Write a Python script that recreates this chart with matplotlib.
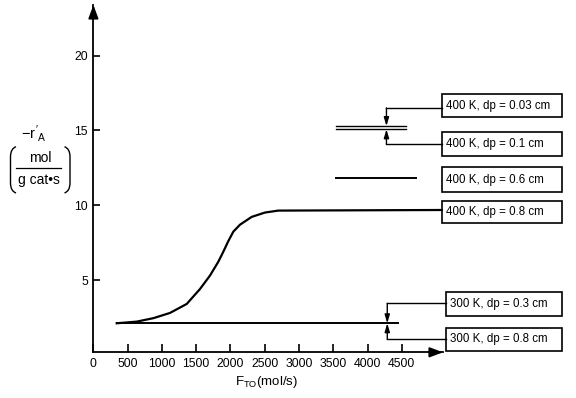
import matplotlib
matplotlib.use("Agg")
import matplotlib.pyplot as plt
from matplotlib.patches import Rectangle, PathPatch
from matplotlib.path import Path

plt.rcParams['font.family'] = 'Liberation Sans'
plt.rcParams['mathtext.fontset'] = 'custom'
plt.rcParams['mathtext.rm'] = 'Liberation Sans'
plt.rcParams['mathtext.it'] = 'Liberation Sans'
plt.rcParams['mathtext.bf'] = 'Liberation Sans:bold'

# 400 K, dp = 0.8 cm : S-shaped curve
f_08 = [340, 632, 874, 1117, 1361, 1555, 1701, 1822, 1895, 1968, 2041, 2139, 2309, 2503, 2697, 5081]
r_08 = [2.11, 2.22, 2.45, 2.8, 3.4, 4.4, 5.3, 6.22, 6.89, 7.6, 8.23, 8.7, 9.22, 9.51, 9.64, 9.68]

# flat lines
f_300 = [340, 4450]
r_300 = [2.11, 2.11]
f_06 = [3540, 4700]
r_06 = [11.80, 11.80]
f_small = [3540, 4560]
r_003 = [15.29, 15.29]
r_01 = [15.07, 15.07]

xticks = [0, 500, 1000, 1500, 2000, 2500, 3000, 3500, 4000, 4500]
yticks = [5, 10, 15, 20]

labels = ["400 K, dp = 0.03 cm", "400 K, dp = 0.1 cm", "400 K, dp = 0.6 cm",
          "400 K, dp = 0.8 cm", "300 K, dp = 0.3 cm", "300 K, dp = 0.8 cm"]

W, H = 576, 398
fig = plt.figure(figsize=(5.76, 3.98), dpi=100)
ax = fig.add_axes([93.4 / W, 45.7 / H, 349.6 / W, 347.3 / H])
ax.set_xlim(0, 5100)
ax.set_ylim(0.17, 23.38)

for s in ['top', 'right']:
    ax.spines[s].set_visible(False)
ax.spines['left'].set_linewidth(1.3)
ax.spines['bottom'].set_linewidth(1.3)

ax.set_xticks(xticks)
ax.set_yticks(yticks)
ax.tick_params(direction='in', length=6, width=1.2, labelsize=8.8, pad=4)
ax.tick_params(axis='y', length=5, pad=4)

# axis arrow heads
head = '-|>,head_length=0.8,head_width=0.3'
ax.annotate('', xy=(1.0, 0), xytext=(0.96, 0), xycoords='axes fraction',
            arrowprops=dict(arrowstyle=head, color='black', lw=1.3, shrinkA=0, shrinkB=0))
ax.annotate('', xy=(0, 1.0), xytext=(0, 0.96), xycoords='axes fraction',
            arrowprops=dict(arrowstyle=head, color='black', lw=1.3, shrinkA=0, shrinkB=0))

ax.plot(f_08, r_08, color='black', lw=1.6, clip_on=False, solid_joinstyle='round')
ax.plot(f_300, r_300, color='black', lw=1.4)
ax.plot(f_06, r_06, color='black', lw=1.4)
ax.plot(f_small, r_003, color='black', lw=1.0)
ax.plot(f_small, r_01, color='black', lw=1.0)

# label boxes (x0, x1, y0, y1) in data units
boxes = [(5081, 6832, 15.88, 17.43), (5081, 6832, 13.29, 14.91), (5081, 6832, 10.90, 12.53),
         (5081, 6832, 8.83, 10.30), (5139, 6832, 2.61, 4.18), (5139, 6832, 0.25, 1.81)]
for (x0, x1, y0, y1), lab in zip(boxes, labels):
    ax.add_patch(Rectangle((x0, y0), x1 - x0, y1 - y0, fill=False, lw=1.2,
                           edgecolor='black', clip_on=False))
    ax.text(x0 + 70, (y0 + y1) / 2, lab, fontsize=8.3, va='center', ha='left', clip_on=False)

# leader lines with arrows pointing at the curves
leaders = [(5081, 16.50, 4275, r_003[0]), (5081, 14.09, 4275, r_01[0]),
           (5139, 3.44, 4287, r_300[0]), (5139, 1.04, 4287, r_300[0])]
for bx, by, vx, ty in leaders:
    ax.plot([bx, vx], [by, by], color='black', lw=1.0, clip_on=False)
    ax.annotate('', xy=(vx, ty), xytext=(vx, by),
                arrowprops=dict(arrowstyle='-|>,head_length=0.5,head_width=0.15',
                                color='black', lw=1.0, shrinkA=0, shrinkB=0))

# y axis label: -r'_A (mol / g cat.s)
def fx(px):
    return px / W

def fy(py):
    return 1 - py / H

fig.text(fx(34), fy(133), r"$-r'_{\mathrm{A}}$", fontsize=10.5, ha='center', va='center')
fig.text(fx(40.5), fy(158), "mol", fontsize=10, ha='center', va='center')
fig.text(fx(39), fy(180), "g cat\u2022s", fontsize=10, ha='center', va='center')
fig.add_artist(plt.Line2D([fx(16), fx(61)], [fy(168.3), fy(168.3)], color='black', lw=0.9))

# parentheses as curved brackets
def bracket(x_out, x_in, top, bot):
    verts = [(x_in, top), (x_out, top + 2), (x_out, top + 10),
             (x_out, bot - 10),
             (x_out, bot - 2), (x_in, bot)]
    codes = [Path.MOVETO, Path.CURVE3, Path.CURVE3, Path.LINETO, Path.CURVE3, Path.CURVE3]
    verts = [(fx(a), fy(b)) for a, b in verts]
    return PathPatch(Path(verts, codes), fill=False, lw=1.0, edgecolor='black',
                     transform=fig.transFigure)

fig.add_artist(bracket(10.5, 16, 146.7, 193))
fig.add_artist(bracket(70, 64.5, 146.7, 193))

fig.text(fx(267), fy(382), r"F$_{\mathrm{TO}}$(mol/s)", fontsize=9.5, ha='center', va='center')

fig.savefig("out.png", dpi=100)
